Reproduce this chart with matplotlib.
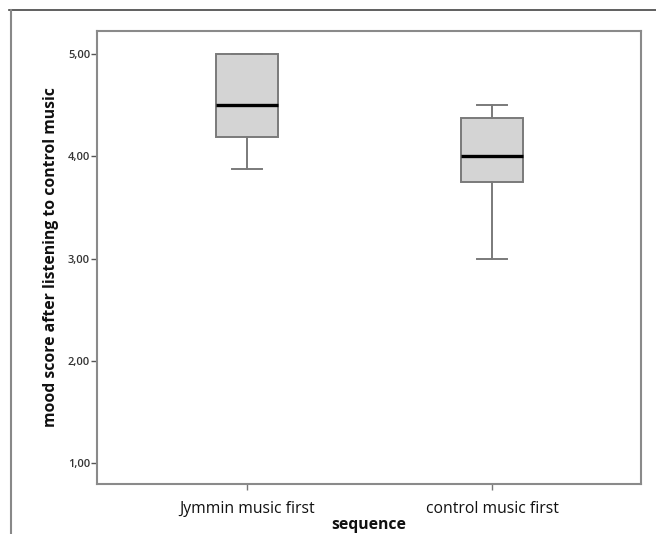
import matplotlib
matplotlib.use("Agg")
import matplotlib.pyplot as plt
from matplotlib.lines import Line2D

# ========== DATA ==========

groups   = ["Jymmin music first", "control music first"]
whislo   = [3.875, 3.00]
q1       = [4.1875, 3.75]
medians  = [4.50, 4.00]
q3       = [5.00, 4.375]
whishi   = [5.00, 4.50]

yticks      = [1, 2, 3, 4, 5]
ytick_lbls  = ["1,00", "2,00", "3,00", "4,00", "5,00"]

# ========== PLOTTING ==========

plt.rcParams["font.family"] = ["Open Sans", "DejaVu Sans"]

fig = plt.figure(figsize=(6.56, 5.34), dpi=100)
ax = fig.add_axes([97 / 656, 1 - 484 / 534, 544 / 656, 453 / 534])

stats = []
for i, g in enumerate(groups):
    stats.append(dict(label=g, whislo=whislo[i], q1=q1[i], med=medians[i],
                      q3=q3[i], whishi=whishi[i], fliers=[]))

edge = "#7a7a7a"
ax.bxp(stats, positions=[1, 2], widths=0.253, patch_artist=True,
       showfliers=False,
       boxprops=dict(facecolor="#d4d4d4", edgecolor=edge, linewidth=1.4),
       medianprops=dict(color="black", linewidth=2.4),
       whiskerprops=dict(color=edge, linewidth=1.4),
       capprops=dict(color=edge, linewidth=1.4),
       capwidths=0.125)

ax.set_xlim(0.388, 2.608)
ax.set_ylim(0.795, 5.225)

ax.set_yticks(yticks)
ax.set_yticklabels(ytick_lbls, fontsize=8, fontweight="semibold", color="#333333")
ax.set_xticks([1, 2])
ax.set_xticklabels(groups, fontsize=11.3, color="#111111")
ax.tick_params(axis="y", length=4, width=1, color="#555555", pad=1)
ax.tick_params(axis="x", length=4, width=1, color="#777777", pad=8.5)

for s in ax.spines.values():
    s.set_color("#8a8a8a")
    s.set_linewidth(1.5)

ax.set_ylabel("mood score after listening to control music",
              fontsize=11.3, fontweight="bold", color="#111111", labelpad=6)
ax.set_xlabel("sequence", fontsize=11.3, fontweight="bold", color="#111111",
              labelpad=0)

# outer frame of the original SPSS output
fig.add_artist(Line2D([9 / 656, 1], [1 - 10 / 534] * 2, color="#444444",
                      linewidth=1.2, transform=fig.transFigure))
fig.add_artist(Line2D([11 / 656] * 2, [0, 1 - 10 / 534], color="#888888",
                      linewidth=1.5, transform=fig.transFigure))

fig.savefig("out.png", dpi=100)
